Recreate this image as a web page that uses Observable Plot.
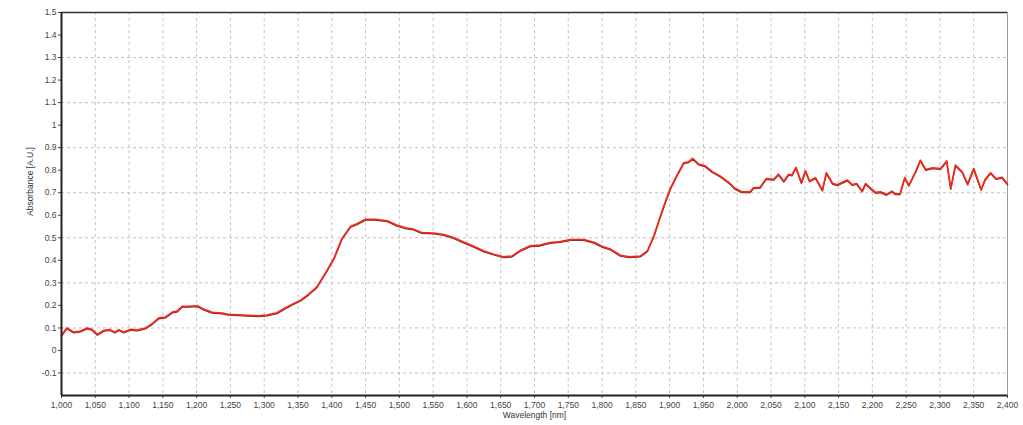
<!DOCTYPE html>
<html>
<head>
<meta charset="utf-8">
<script src="https://cdn.jsdelivr.net/npm/d3@7"></script>
<script src="https://cdn.jsdelivr.net/npm/@observablehq/plot@0.6"></script>
<style>
  html, body { margin: 0; padding: 0; background: #fff; }
  svg { display: block; }
</style>
</head>
<body>
<div id="chart"></div>
<script>
const wavelength = [1000,1008,1018,1028,1038,1045,1053,1063,1072,1079,1085,1092,1102,1112,1124,1134,1144,1154,1164,1171,1179,1188,1201,1211,1223,1238,1247,1262,1277,1292,1304,1319,1331,1341,1354,1366,1378,1391,1403,1415,1428,1438,1450,1464,1482,1496,1509,1521,1533,1551,1566,1580,1595,1610,1625,1640,1654,1667,1679,1694,1708,1723,1738,1753,1773,1788,1800,1812,1827,1840,1857,1867,1877,1881,1891,1901,1911,1921,1928,1934,1943,1953,1963,1975,1988,1997,2007,2019,2024,2034,2043,2054,2061,2069,2076,2081,2087,2095,2101,2107,2116,2126,2132,2141,2148,2163,2170,2177,2185,2190,2198,2205,2212,2221,2229,2234,2241,2248,2254,2264,2271,2279,2289,2301,2310,2316,2323,2333,2341,2350,2361,2367,2375,2383,2392,2400];
const absorbance = [0.067,0.100,0.081,0.086,0.099,0.093,0.071,0.089,0.092,0.081,0.092,0.081,0.093,0.090,0.099,0.118,0.144,0.148,0.170,0.174,0.196,0.196,0.198,0.182,0.169,0.166,0.160,0.158,0.156,0.153,0.157,0.167,0.188,0.204,0.223,0.250,0.282,0.345,0.407,0.496,0.551,0.563,0.582,0.582,0.575,0.556,0.544,0.538,0.523,0.521,0.514,0.501,0.481,0.462,0.441,0.427,0.415,0.419,0.444,0.464,0.467,0.479,0.483,0.492,0.492,0.480,0.462,0.450,0.422,0.415,0.419,0.441,0.511,0.548,0.637,0.718,0.778,0.833,0.837,0.852,0.827,0.818,0.793,0.773,0.744,0.718,0.704,0.704,0.722,0.724,0.763,0.759,0.782,0.751,0.781,0.778,0.812,0.744,0.797,0.752,0.766,0.711,0.788,0.742,0.735,0.756,0.736,0.740,0.707,0.740,0.718,0.701,0.704,0.692,0.707,0.695,0.695,0.767,0.733,0.793,0.844,0.803,0.810,0.807,0.841,0.718,0.822,0.793,0.738,0.807,0.714,0.759,0.788,0.763,0.768,0.738];

const xTicks = d3.range(1000, 2401, 50);
const yTicks = d3.range(-1, 16).map(d => d / 10);
const yGrid = [-0.1, 0.1, 0.3, 0.5, 0.7, 0.9, 1.1, 1.3];
const xDomain = [1000, 2400];
const yDomain = [-0.2, 1.5];
const xLabel = "Wavelength [nm]";
const yLabel = "Absorbance [A.U.]";

const data = wavelength.map((w, i) => ({w, a: absorbance[i]}));

const chart = Plot.plot({
  width: 1023,
  height: 425,
  marginLeft: 61,
  marginRight: 16,
  marginTop: 12,
  marginBottom: 30,
  style: {fontFamily: "'Liberation Sans', Arial, sans-serif", fontSize: "8.5px", color: "#444", background: "#fff"},
  x: {domain: xDomain, ticks: xTicks, tickFormat: d3.format(","), tickSize: 3, tickPadding: 3, label: null},
  y: {domain: yDomain, ticks: yTicks, tickFormat: d => String(+d.toFixed(1)), tickSize: 3, tickPadding: 2, label: null},
  marks: [
    Plot.ruleX(xTicks, {stroke: "#c4c4c4", strokeDasharray: "3,3", strokeWidth: 1}),
    Plot.ruleY(yGrid, {stroke: "#cbbfbf", strokeDasharray: "3,3", strokeWidth: 1}),
    Plot.ruleX([xDomain[1]], {stroke: "#999", strokeWidth: 1}),
    Plot.ruleY([yDomain[1]], {stroke: "#333", strokeWidth: 1.5}),
    Plot.line(data, {x: "w", y: "a", stroke: "#5a2a24", strokeWidth: 1.2, dy: 0.8}),
    Plot.line(data, {x: "w", y: "a", stroke: "#ee2a1e", strokeWidth: 1.8}),
    Plot.ruleX([xDomain[0]], {stroke: "#222", strokeWidth: 2}),
    Plot.ruleY([yDomain[0]], {stroke: "#222", strokeWidth: 2}),
    Plot.text([xLabel], {frameAnchor: "bottom", dy: 22, fontSize: 8.5, fill: "#333"}),
    Plot.text([yLabel], {frameAnchor: "left", dx: -31, dy: 12, rotate: -90, fontSize: 8.5, fill: "#333"})
  ]
});
document.getElementById("chart").appendChild(chart);
</script>
</body>
</html>
